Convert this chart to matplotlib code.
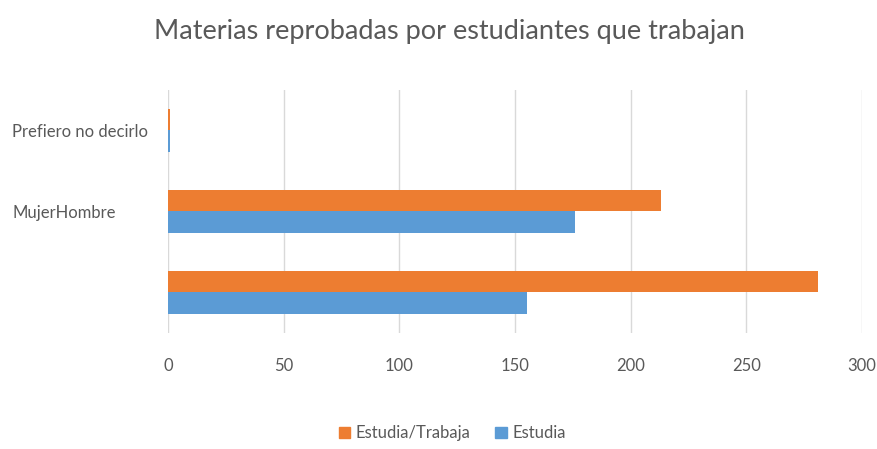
import numpy as np
from matplotlib import pyplot as plt
from matplotlib.patches import Patch

categories = ['', 'MujerHombre', 'Prefiero no decirlo']
estudia_trabaja = [281, 213, 1]
estudia = [155, 176, 1]

orange = '#ED7D31'
blue = '#5B9BD5'
gray = '#595959'

plt.rcParams['font.family'] = ['Lato', 'DejaVu Sans']

fig = plt.figure(figsize=(8.78, 4.49), dpi=100)
ax = fig.add_axes([0.1913, 0.2584, 0.7904, 0.5412])

y = np.arange(len(categories))
h = 0.26
ax.barh(y + h / 2, estudia_trabaja, height=h, color=orange, label='Estudia/Trabaja', zorder=3)
ax.barh(y - h / 2, estudia, height=h, color=blue, label='Estudia', zorder=3)

ax.set_xlim(0, 300)
ax.set_ylim(-0.5, 2.5)
ax.set_xticks(range(0, 301, 50))
ax.grid(axis='x', color='#D9D9D9', linewidth=1, zorder=0)
for s in ax.spines.values():
    s.set_visible(False)
ax.tick_params(axis='both', length=0, colors=gray, labelsize=12)
ax.tick_params(axis='x', pad=18)

# category labels sit left-aligned near the figure edge
ax.set_yticks(y)
ax.set_yticklabels(categories)
for lbl in ax.get_yticklabels():
    lbl.set_horizontalalignment('left')
ax.tick_params(axis='y', pad=112)

fig.text(0.512, 0.93, 'Materias reprobadas por estudiantes que trabajan',
         ha='center', va='center', fontsize=19.5, color=gray)

handles = [Patch(color=orange), Patch(color=blue)]
fig.legend(handles, ['Estudia/Trabaja', 'Estudia'], loc='center',
           bbox_to_anchor=(0.515, 0.035), ncol=2, frameon=False,
           fontsize=12, labelcolor=gray, handlelength=0.7, handleheight=0.7,
           handletextpad=0.3, columnspacing=1.5)

plt.savefig('out.png', dpi=100)
